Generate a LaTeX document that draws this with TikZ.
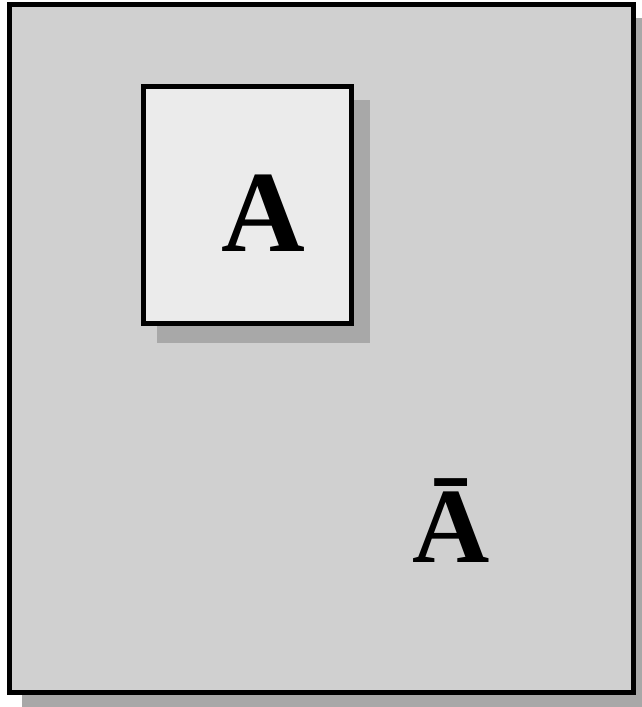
\documentclass[tikz,border=0pt]{standalone}
\usepackage{fontspec}
\setmainfont{Liberation Serif}
\newfontfamily\timesbold{Liberation Serif Bold}
\begin{document}
\begin{tikzpicture}[x=1pt,y=-1pt,
  frame/.style={draw=black,line width=5pt,inner sep=0pt,outer sep=0pt,anchor=north west},
  shade/.style={fill=shadowgray,draw=none},
  letter/.style={inner sep=0pt,anchor=base}]
\definecolor{shadowgray}{RGB}{168,168,168}
\definecolor{outerfill}{RGB}{208,208,208}
\definecolor{innerfill}{RGB}{235,235,235}
\useasboundingbox (0,0) rectangle (642,707);
\fill[white] (0,0) rectangle (642,707);
% outer panel
\fill[shade] (22,18) rectangle (645,710);
\node[frame,fill=outerfill,minimum width=623.5pt,minimum height=688pt] (outer) at (9.5,4.5) {};
% inner box
\fill[shade] (157,100) rectangle (370,343);
\node[frame,fill=innerfill,minimum width=208pt,minimum height=237pt] (inner) at (143.5,86.5) {};
\node[letter,font=\fontsize{116}{116}\selectfont\timesbold] (a) at (263,251) {A};
\node[letter,font=\fontsize{107}{107}\selectfont\timesbold] (abar) at (451,562) {Ā};
\end{tikzpicture}
\end{document}
